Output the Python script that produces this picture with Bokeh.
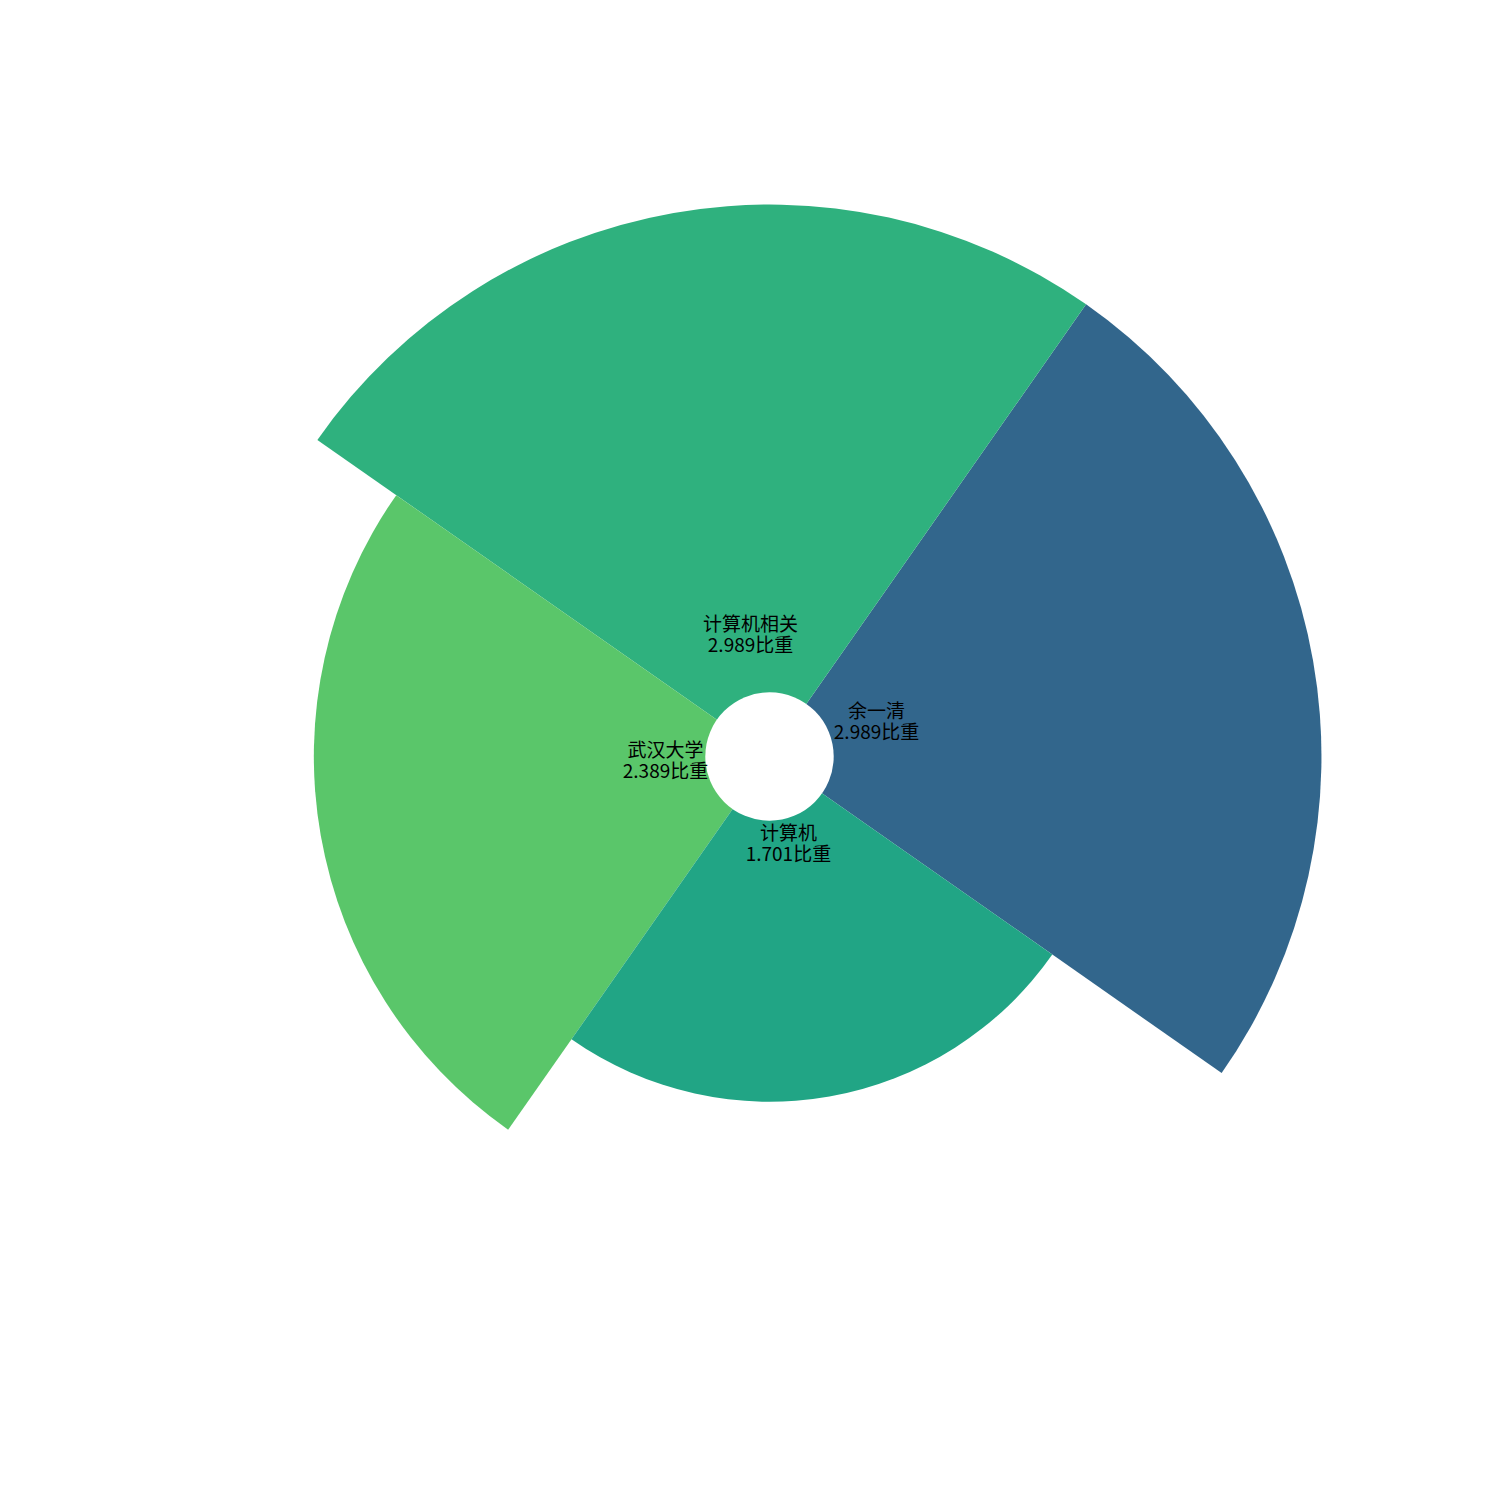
import math
from bokeh.plotting import figure
from bokeh.models import ColumnDataSource, Range1d
from bokeh.core.properties import value
from bokeh.embed import file_html
from bokeh.resources import INLINE

# ---- data ----
categories = ["余一清", "计算机相关", "武汉大学", "计算机"]
weights = [2.989, 2.989, 2.389, 1.701]
colors = ["#32668C", "#2FB17E", "#5AC66A", "#21A585"]

# ---- layout ----
W = H = 1500
scale = 160.5          # px per data unit
cx_px, cy_px = 769, 756
bottom = 0.45
hole = 0.40
theta0 = math.radians(10)
width = 2 * math.pi / len(categories)
label_pos = [(0.667, 0.230), (-0.118, 0.770), (-0.648, -0.015), (0.118, -0.530)]
line_gap = 10.5 / scale

starts, ends, outer = [], [], []
for i, v in enumerate(weights):
    c = theta0 + i * width
    starts.append(c - width / 2)
    ends.append(c + width / 2)
    outer.append(bottom + v)

src = ColumnDataSource(dict(cat=categories, w=weights, color=colors,
                            start=starts, end=ends, outer=outer))

p = figure(width=W, height=H, output_backend="svg", toolbar_location=None,
           x_range=Range1d(-cx_px / scale, (W - cx_px) / scale),
           y_range=Range1d(-(H - cy_px) / scale, cy_px / scale),
           min_border=0)
p.axis.visible = False
p.grid.visible = False
p.outline_line_color = None
p.background_fill_color = "white"
p.border_fill_color = "white"

p.annular_wedge(x=0, y=0, inner_radius=0, outer_radius="outer",
                start_angle="start", end_angle="end", color="color",
                line_color=None, source=src)
p.circle(x=[0], y=[0], radius=hole, fill_color="white", line_color=None)

l1x, l1y, l1t, l2x, l2y, l2t = [], [], [], [], [], []
for (lx, ly), cat, v in zip(label_pos, categories, weights):
    l1x.append(lx); l1y.append(ly + line_gap); l1t.append(cat)
    l2x.append(lx); l2y.append(ly - line_gap); l2t.append(f"{v:.3f}比重")

font = value("Noto Sans CJK SC")
p.text(x=l1x, y=l1y, text=l1t, text_font=font, text_font_size="19px",
       text_align="center", text_baseline="middle", text_color="black")
p.text(x=l2x, y=l2y, text=l2t, text_font=font, text_font_size="19px",
       text_align="center", text_baseline="middle", text_color="black")

open("out.html", "w").write(file_html(p, INLINE))
